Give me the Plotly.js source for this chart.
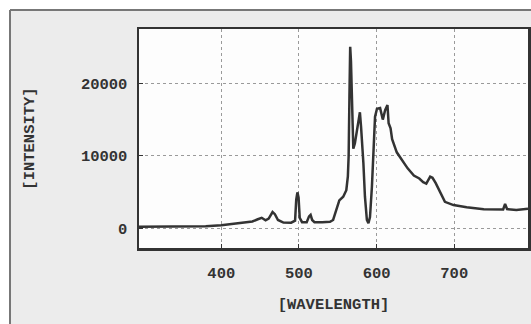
<!DOCTYPE html>
<html>
<head>
<meta charset="utf-8">
<script src="https://cdn.plot.ly/plotly-3.0.1.min.js"></script>
<style>html,body{margin:0;padding:0;background:#fff;}#chart{width:531px;height:324px;}</style>
</head>
<body>
<div id="chart"></div>
<script>
const wavelength = [294,320,350,380,400,415,430,440,447,452,457,461,466,469,473,480,490,495,496.5,498,499.5,501,504,510,513,515,517,520,530,540,544,548,552,557,561,563,564,565,566,567,568.5,570,572,575,577.5,578.5,580,581,583,585,587.5,589.5,591.5,594,596,598,600.5,604.5,608,611,614,615.5,618,620,626,632,640,648,655,660,664,669,672,676,682,688,699,716,738,759,763,765.5,768,780,795];
const intensity  = [280,280,300,330,480,700,900,1000,1300,1500,1150,1400,2300,2000,1200,850,830,1100,4000,5000,4300,1500,900,900,1700,1900,1200,900,900,950,1200,2700,3900,4400,5300,7200,10000,18000,25000,23000,18000,11000,11700,13600,15800,16000,14000,12500,9000,4400,1200,750,1600,5800,11300,15400,16500,16600,15000,16300,17000,14500,13800,12300,10500,9500,8300,7300,6900,6400,6200,7150,7000,6300,4900,3700,3250,2950,2680,2580,2650,3400,2700,2570,2750];
const xTicks = [400,500,600,700];
const yTicks = [0,10000,20000];
const xTitle = '[WAVELENGTH]';
const yTitle = '[INTENSITY]';

const font = {family:'Liberation Mono, DejaVu Sans Mono, monospace', size:15.5, color:'#333', weight:'bold'};
const L=139, R=528, T=29, B=248, W=531, H=324;
const px = v => (v-L)/(R-L);
const py = v => (B-v)/(B-T);

Plotly.newPlot('chart', [{
  x: wavelength, y: intensity, type:'scatter', mode:'lines',
  line:{color:'#333', width:2.5}, hoverinfo:'skip'
}], {
  width:W, height:H,
  margin:{l:L, r:W-R, t:T, b:H-B, pad:0},
  paper_bgcolor:'#ececec', plot_bgcolor:'#fdfdfd',
  showlegend:false,
  font: font,
  xaxis:{range:[294,795], tickvals:xTicks, ticktext:xTicks.map(String),
    showgrid:true, gridcolor:'#9a9a9a', griddash:'dot', gridwidth:1,
    showline:true, mirror:true, linecolor:'#333', linewidth:2.5,
    ticks:'inside', ticklen:4, tickcolor:'#333', tickfont:font, ticklabelstandoff:9,
    zeroline:false, title:{text:xTitle, font:font, standoff:16}},
  yaxis:{range:[-2650,27450], tickvals:yTicks, ticktext:yTicks.map(String),
    showgrid:true, gridcolor:'#9a9a9a', griddash:'dot', gridwidth:1,
    showline:true, mirror:true, linecolor:'#333', linewidth:2.5,
    ticks:'inside', ticklen:4, tickcolor:'#333', tickfont:font, ticklabelstandoff:6,
    zeroline:false, title:{text:yTitle, font:font, standoff:43}},
  shapes:[
    {type:'rect', xref:'paper', yref:'paper', x0:px(0), x1:px(10), y0:py(330), y1:py(0), fillcolor:'#fff', line:{width:0}},
    {type:'rect', xref:'paper', yref:'paper', x0:px(0), x1:px(540), y0:py(10), y1:py(0), fillcolor:'#fff', line:{width:0}},
    {type:'line', xref:'paper', yref:'paper', x0:px(10), x1:px(10), y0:py(330), y1:py(10), line:{color:'#777', width:2}},
    {type:'line', xref:'paper', yref:'paper', x0:px(10), x1:px(540), y0:py(10), y1:py(10), line:{color:'#777', width:2}}
  ]
}, {staticPlot:true});
</script>
</body>
</html>
